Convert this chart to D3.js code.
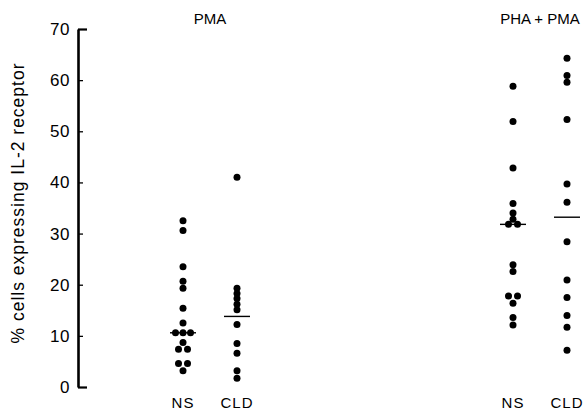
<!DOCTYPE html>
<html>
<head>
<meta charset="utf-8">
<script src="https://cdn.jsdelivr.net/npm/d3@7"></script>
<style>
  body { margin: 0; background: #fff; }
  text { font-family: "Liberation Sans", Arial, sans-serif; fill: #000; }
</style>
</head>
<body>
<div id="chart"></div>
<script>
// values (% cells expressing IL-2 receptor)
var groups = ["PMA", "PHA + PMA"];
var subgroups = ["NS", "CLD"];
var yTicks = [0, 10, 20, 30, 40, 50, 60, 70];

var pmaNS  = [32.5, 30.6, 23.5, 20.7, 19.3, 15.4, 12.5, 10.6, 10.6, 10.6, 8.7, 7.4, 7.4, 4.6, 4.6, 3.2];
var pmaCLD = [41.0, 19.3, 18.3, 17.3, 16.2, 15.1, 12.2, 8.5, 6.6, 3.2, 1.7];
var phaNS  = [58.8, 51.9, 42.8, 35.9, 34.0, 32.8, 31.8, 31.8, 23.9, 22.6, 17.8, 17.8, 16.4, 13.6, 12.1];
var phaCLD = [64.3, 60.9, 59.6, 52.3, 39.7, 36.1, 28.4, 20.9, 17.5, 14.0, 11.7, 7.2];

// median bars as drawn
var medians = [
  {group: "PMA", sub: "NS", value: 10.6},
  {group: "PMA", sub: "CLD", value: 13.8},
  {group: "PHA + PMA", sub: "NS", value: 31.8},
  {group: "PHA + PMA", sub: "CLD", value: 33.2}
];

var series = [
  {group: "PMA", sub: "NS", values: pmaNS},
  {group: "PMA", sub: "CLD", values: pmaCLD},
  {group: "PHA + PMA", sub: "NS", values: phaNS},
  {group: "PHA + PMA", sub: "CLD", values: phaCLD}
];

var width = 587, height = 411;

var svg = d3.select("#chart")
  .append("svg")
    .attr("width", width)
    .attr("height", height);

var y = d3.scaleLinear()
  .domain([0, 70])
  .range([387, 29]);

var x0 = d3.scalePoint()
  .domain(groups)
  .range([210, 540]);

var x1 = d3.scalePoint()
  .domain(subgroups)
  .range([-27, 27]);

var r = 3.5;

// y axis, ticks pointing inward
var axisG = svg.append("g")
  .attr("transform", "translate(78,0)")
  .call(d3.axisLeft(y)
    .tickValues(yTicks)
    .tickSizeInner(-5)
    .tickSizeOuter(0)
    .tickPadding(8));

axisG.select(".domain")
  .attr("stroke", "#000")
  .attr("stroke-width", 2.6);
axisG.selectAll(".tick line")
  .attr("stroke", "#000")
  .attr("x2", function(d) { return (d == 0 || d == 70) ? 9 : 5; })
  .attr("stroke-width", function(d) { return (d == 0 || d == 70) ? 2.2 : 1.3; });
axisG.selectAll(".tick text")
  .style("font-size", "17px")
  .style("font-family", "'Liberation Sans', Arial, sans-serif")
  .style("letter-spacing", "0.5px")
  .attr("fill", "#000");

// axis title
svg.append("text")
  .attr("transform", "translate(24,203) rotate(-90)")
  .attr("text-anchor", "middle")
  .style("font-size", "17.5px")
  .style("letter-spacing", "1px")
  .text("% cells expressing IL-2 receptor");

// group titles
svg.selectAll(".title")
  .data(groups)
  .enter().append("text")
    .attr("class", "title")
    .attr("x", function(d) { return x0(d); })
    .attr("y", 24)
    .attr("text-anchor", "middle")
    .style("font-size", "15px")
    .text(function(d) { return d; });

// category labels under each column
var cats = [];
groups.forEach(function(g) { subgroups.forEach(function(s) { cats.push({group: g, sub: s}); }); });

svg.selectAll(".cat")
  .data(cats)
  .enter().append("text")
    .attr("class", "cat")
    .attr("x", function(d) { return x0(d.group) + x1(d.sub); })
    .attr("y", 408)
    .attr("text-anchor", "middle")
    .style("font-size", "15px")
    .style("letter-spacing", "1px")
    .text(function(d) { return d.sub; });

// dots: equal values spread side by side
series.forEach(function(s) {
  var counts = d3.rollup(s.values, v => v.length, d => d);
  var seen = new Map();
  var pts = s.values.map(function(v) {
    var n = counts.get(v);
    var i = seen.get(v) || 0;
    seen.set(v, i + 1);
    var step = n == 2 ? 9 : 7.5;
    return {value: v, dx: (i - (n - 1) / 2) * step};
  });

  svg.append("g")
    .selectAll("circle")
    .data(pts)
    .enter().append("circle")
      .attr("cx", function(d) { return x0(s.group) + x1(s.sub) + d.dx; })
      .attr("cy", function(d) { return y(d.value); })
      .attr("r", r)
      .attr("fill", "#000");
});

// median bars
svg.selectAll(".median")
  .data(medians)
  .enter().append("line")
    .attr("class", "median")
    .attr("x1", function(d) { return x0(d.group) + x1(d.sub) - 13; })
    .attr("x2", function(d) { return x0(d.group) + x1(d.sub) + 13; })
    .attr("y1", function(d) { return y(d.value); })
    .attr("y2", function(d) { return y(d.value); })
    .attr("stroke", "#000")
    .attr("stroke-width", 1.4);
</script>
</body>
</html>
